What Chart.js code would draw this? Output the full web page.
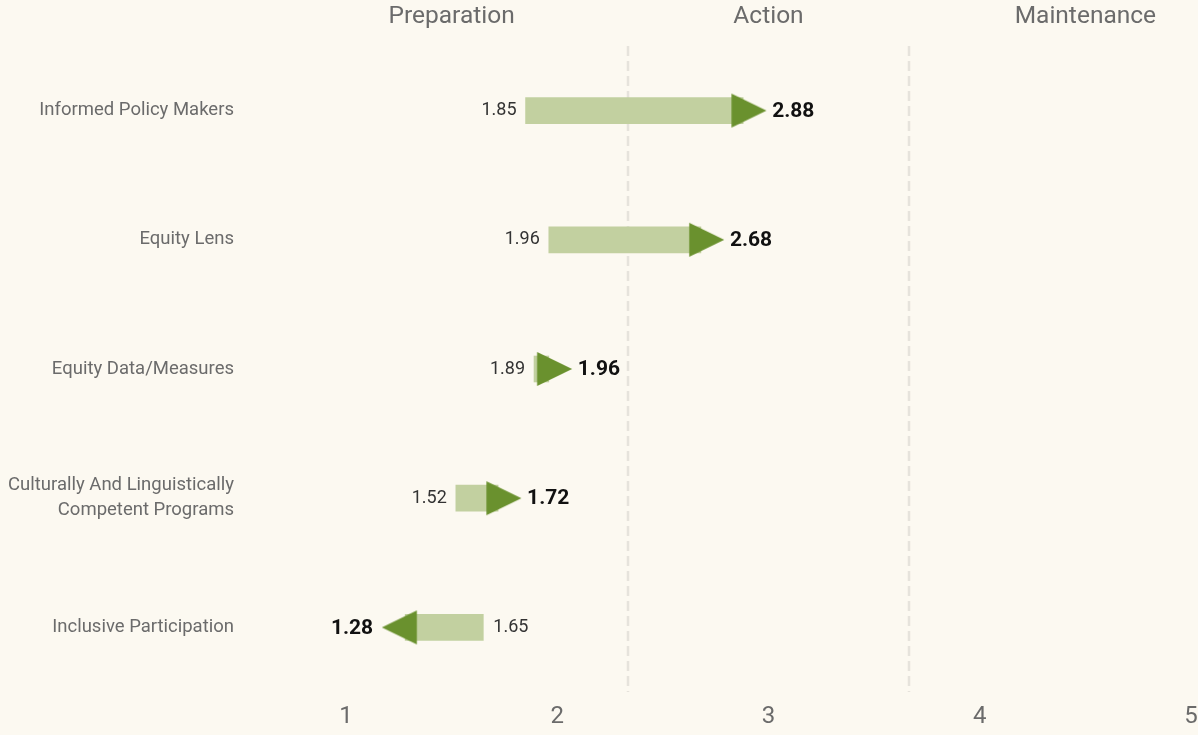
<!DOCTYPE html>
<html>
<head>
<meta charset="utf-8">
<script src="https://cdn.jsdelivr.net/npm/chart.js@4.4.0/dist/chart.umd.min.js"></script>
<style>
html, body { margin: 0; padding: 0; background: #fcf9f1; }
#wrap { width: 1198px; height: 735px; }
</style>
</head>
<body>
<div id="wrap"><canvas id="myChart"></canvas></div>
<script>
// data
const categories = [
    'Informed Policy Makers',
    'Equity Lens',
    'Equity Data/Measures',
    ['Culturally And Linguistically', 'Competent Programs'],
    'Inclusive Participation'
];
const startScores = [1.85, 1.96, 1.89, 1.52, 1.65];
const endScores = [2.88, 2.68, 1.96, 1.72, 1.28];
const stageNames = ['Preparation', 'Action', 'Maintenance'];
const stageCenters = [1.5, 3, 4.5];
const stageBreaks = [7 / 3, 11 / 3];

const lightGreen = 'rgb(194, 208, 160)';
const darkGreen = 'rgb(106, 145, 46)';
const fontName = 'Roboto, "Noto Sans", sans-serif';

// arrow head image, centroid sits in the middle of the canvas
function makeArrow(dir) {
    const c = document.createElement('canvas');
    c.width = 70;
    c.height = 36;
    const g = c.getContext('2d');
    g.fillStyle = darkGreen;
    g.beginPath();
    if (dir > 0) {
        g.moveTo(23.33, 1);
        g.lineTo(58.33, 18);
        g.lineTo(23.33, 35);
    } else {
        g.moveTo(46.67, 1);
        g.lineTo(11.67, 18);
        g.lineTo(46.67, 35);
    }
    g.closePath();
    g.fill();
    return c;
}
const arrowRight = makeArrow(1);
const arrowLeft = makeArrow(-1);

const barData = startScores.map((s, i) => [s, endScores[i]]);
const headData = endScores.map((e, i) => ({x: e, y: i}));

// dashed stage lines + stage names on top
const stagePlugin = {
    id: 'stages',
    beforeDatasetsDraw(chart) {
        const {ctx, chartArea, scales} = chart;
        ctx.save();
        ctx.strokeStyle = '#e6e3dc';
        ctx.lineWidth = 2.5;
        ctx.setLineDash([10, 5]);
        stageBreaks.forEach(v => {
            const x = Math.round(scales.x.getPixelForValue(v));
            ctx.beginPath();
            ctx.moveTo(x, chartArea.top);
            ctx.lineTo(x, chartArea.bottom);
            ctx.stroke();
        });
        ctx.setLineDash([]);
        ctx.fillStyle = '#6b6b6b';
        ctx.font = '24.5px ' + fontName;
        ctx.textAlign = 'center';
        ctx.textBaseline = 'middle';
        stageNames.forEach((name, i) => {
            ctx.fillText(name, scales.x.getPixelForValue(stageCenters[i]), 17);
        });
        ctx.restore();
    }
};

// start / end value labels
const valuePlugin = {
    id: 'values',
    afterDatasetsDraw(chart) {
        const {ctx, scales} = chart;
        ctx.save();
        ctx.textBaseline = 'middle';
        startScores.forEach((s, i) => {
            const e = endScores[i];
            const y = scales.y.getPixelForValue(i);
            const xs = scales.x.getPixelForValue(s);
            const xe = scales.x.getPixelForValue(e);
            const up = e >= s;
            ctx.fillStyle = '#333';
            ctx.font = '18px ' + fontName;
            ctx.textAlign = up ? 'right' : 'left';
            ctx.fillText(s.toFixed(2), up ? xs - 9 : xs + 10, y);
            ctx.fillStyle = '#111';
            ctx.font = 'bold 21px ' + fontName;
            ctx.textAlign = up ? 'left' : 'right';
            ctx.fillText(e.toFixed(2), up ? xe + 29 : xe - 32, y + 1);
        });
        ctx.restore();
    }
};

const ctx = document.getElementById('myChart').getContext('2d');
const chart = new Chart(ctx, {
    type: 'bar',
    data: {
        labels: categories,
        datasets: [{
            type: 'bar',
            indexAxis: 'y',
            data: barData,
            backgroundColor: lightGreen,
            borderWidth: 0,
            barThickness: 26,
            order: 1
        }, {
            type: 'scatter',
            data: headData,
            pointStyle: function(c) {
                const i = c.dataIndex;
                return endScores[i] >= startScores[i] ? arrowRight : arrowLeft;
            },
            pointRadius: 18,
            clip: false,
            order: 0
        }]
    },
    options: {
        responsive: true,
        maintainAspectRatio: false,
        animation: false,
        layout: {
            autoPadding: false,
            padding: {top: 46, right: 7, bottom: 0, left: 0}
        },
        plugins: {
            legend: {display: false},
            tooltip: {enabled: false}
        },
        scales: {
            x: {
                type: 'linear',
                min: 1,
                max: 5,
                offset: false,
                grid: {display: false, drawTicks: false, offset: false},
                border: {display: false},
                ticks: {
                    stepSize: 1,
                    color: '#6b6b6b',
                    padding: 11,
                    font: {family: fontName, size: 24}
                },
                afterFit: function(scale) {
                    scale.height = 43;
                    scale.paddingLeft = 0;
                    scale.paddingRight = 0;
                }
            },
            y: {
                type: 'category',
                offset: true,
                grid: {display: false, drawTicks: false},
                border: {display: false},
                ticks: {
                    color: '#6b6b6b',
                    padding: 112,
                    font: {family: fontName, size: 18.5, lineHeight: 1.35}
                },
                afterFit: function(scale) {
                    scale.width = 346;
                    scale.paddingTop = 0;
                    scale.paddingBottom = 0;
                }
            }
        }
    },
    plugins: [stagePlugin, valuePlugin]
});
</script>
</body>
</html>
